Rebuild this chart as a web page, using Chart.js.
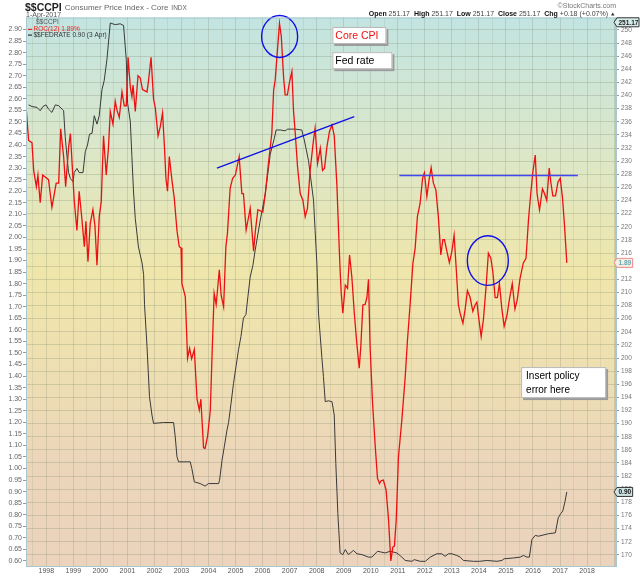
<!DOCTYPE html>
<html>
<head>
<meta charset="utf-8">
<script src="https://cdn.jsdelivr.net/npm/chart.js@4.4.1/dist/chart.umd.min.js"></script>
<style>
  html, body { margin: 0; padding: 0; background: #fff; }
  canvas { display: block; }
</style>
</head>
<body>
<canvas id="chart" width="640" height="576"></canvas>
<script>
// months counted from Apr 1997 (0 = Apr 1997, 240 = Apr 2017)
const rocMonth = [0, 1.15, 2.66, 3.4, 4.6, 5.3, 6.3, 7.4, 10, 11.5, 13.4, 14.5, 15.4, 16.7, 17.6, 18.9, 19.7, 20.4,
  21.4, 22.6, 23.6, 24.8, 25.9, 26.6, 27.5, 28.5, 29.7, 30.6, 31.5, 32.5, 33.4, 34.4, 35.6, 36.6, 37.4, 38.6, 39.6,
  40.4, 41.4, 42.6, 43.6, 44.5, 45.3, 46.3, 47, 47.5, 48.5, 49.7, 50.7, 51.7, 53.7, 54.4, 55.5, 56.6, 57.4, 58.6,
  59.6, 60.6, 61.4, 62.1, 62.8, 63.6, 64.8, 65.8, 67, 68, 68.8, 69.2, 70.7, 71.7, 72.6, 73.5, 74.7, 75.9, 76.9,
  77.6, 78.8, 79.5, 80.6, 81.8, 82.5, 83.5, 84.4, 85.8, 86.6, 87.7, 88.7, 89.4, 90.6, 91.7, 92.9, 94.6, 95.8, 96.5,
  97.7, 99.5, 101, 101.7, 102.9, 105.1, 106.2, 107.6, 109.1, 109.9, 110.6, 111.6, 112.5, 113.3, 114.3, 115, 116,
  116.9, 118, 118.7, 119.5, 120.5, 121.7, 122.9, 123.9, 124.9, 126.1, 127.6, 128.3, 129.4, 130.6, 131.6, 132.5,
  133.5, 134.7, 135.8, 136.8, 138, 138.7, 139.4, 139.9, 140.6, 141.7, 142.7, 143.6, 144.6, 145.7, 146.8, 147.9,
  148.6, 149.5, 150.5, 151.3, 152, 152.7, 153.8, 155, 156, 156.9, 157.6, 158.6, 159.8, 160.9, 161.9, 162.8, 163.5,
  164.3, 165.3, 166.8, 168.3, 169.3, 170.5, 171.7, 172.7, 173.7, 174.9, 176, 176.8, 177.9, 178.9, 179.8, 180.8,
  181.9, 183, 184.1, 185, 185.7, 186.8, 187.9, 189, 190, 190.9, 191.9, 192.7, 193.9, 194.9, 195.9, 197.1, 198.3,
  199.3, 200.1, 201, 202, 203, 204.2, 205.2, 206.3, 207.2, 208.2, 209.2, 210.1, 211.2, 212.2, 213.4, 214.5, 215.8,
  217, 218, 219.2, 220.7, 221.9, 223, 224, 224.9, 226, 226.8, 227.9, 229.2, 230.1, 231.1, 232.2, 232.9, 233.8,
  235, 236.1, 237.1, 238.1, 239, 240];
const rocValue = [2.57, 2.42, 2.41, 2.29, 2.22, 2.27, 2.15, 2.27, 2.25, 2.13, 2.235, 2.235, 2.47, 2.35, 2.22, 2.39, 2.45, 2.33,
  2.16, 2.03, 2.20, 2.08, 1.96, 2.07, 1.895, 2.06, 2.12, 2.05, 1.88, 2.09, 2.155, 2.44, 2.27, 2.39, 2.545, 2.49, 2.59,
  2.55, 2.52, 2.63, 2.57, 2.57, 2.78, 2.65, 2.61, 2.66, 2.545, 2.70, 2.69, 2.64, 2.63, 2.68, 2.78, 2.60, 2.56, 2.44,
  2.48, 2.54, 2.40, 2.255, 2.20, 2.35, 2.245, 2.17, 2.03, 1.96, 1.955, 1.80, 1.744, 1.477, 1.52, 1.475, 1.515, 1.30, 1.253,
  1.30, 1.09, 1.087, 1.14, 1.253, 1.47, 1.758, 1.71, 1.86, 1.75, 1.70, 1.96, 2.018, 2.213, 2.256, 2.27, 2.35, 2.19, 2.19,
  2.032, 2.126, 1.94, 2.02, 2.12, 2.11, 2.19, 2.321, 2.451, 2.638, 2.682, 2.812, 2.927, 2.87, 2.696, 2.617, 2.617,
  2.67, 2.718, 2.552, 2.45, 2.307, 2.19, 2.16, 2.09, 2.126, 2.29, 2.422, 2.473, 2.32, 2.386, 2.29, 2.30,
  2.39, 2.46, 2.487, 2.44, 2.22, 2.032, 1.859, 1.76, 1.672, 1.794, 1.78, 1.924, 1.83, 1.672, 1.542, 1.434,
  1.53, 1.708, 1.71, 1.74, 1.819, 1.53, 1.282, 1.094, 0.957, 0.935, 0.947, 0.95, 0.907, 0.777, 0.60, 0.66, 0.664,
  0.777, 1.051, 1.21, 1.397, 1.556, 1.715, 1.888, 1.953, 2.09, 2.147, 2.256, 2.28, 2.177, 2.25, 2.302, 2.235,
  2.206, 2.09, 1.924, 1.99, 1.99, 1.94, 1.891, 1.94, 2.01, 1.87, 1.708, 1.67, 1.629, 1.69, 1.77, 1.74, 1.68,
  1.708, 1.72, 1.645, 1.571, 1.645, 1.79, 1.932, 1.91, 1.85, 1.74, 1.74, 1.80, 1.69, 1.615, 1.66, 1.73, 1.80,
  1.69, 1.73, 1.82, 1.89, 1.91, 2.076, 2.19, 2.28, 2.357, 2.19, 2.12, 2.21, 2.19, 2.16, 2.30, 2.24, 2.18,
  2.18, 2.24, 2.256, 2.17, 2.05, 1.89];

const fedMonth = [1.15, 2.7, 4.9, 6.3, 7.5, 8.9, 10, 11.5, 13, 14.5, 16, 16.7, 17.4, 18.2, 18.9, 19.7, 20.9, 21.4,
  22.6, 23.6, 25.3, 26.3, 27.3, 28.2, 29.3, 30.3, 31.5, 32.5, 33.7, 34.7, 35.9, 37.4, 39.6, 41.8, 43.3, 44.5, 45.1,
  46.3, 47, 47.7, 48.5, 49.9, 51.5, 52.2, 52.6, 53.7, 54.8, 55.9, 56.6, 61, 65.5, 66.2, 67, 67.7, 72.9, 73.6, 74.7,
  77.3, 79.5, 81, 85.5, 85.9, 87, 88, 89.2, 89.9, 91, 92.1, 93.2, 94.3, 95.4, 96.5, 97.6, 98.5, 99.5, 100.7, 101.7,
  103.9, 106.2, 108.4, 110.2, 111, 112.8, 115, 116.1, 118, 119.5, 122.4, 123.5, 125.4, 127.6, 128.3, 129.1, 129.8,
  131.3, 132, 132.8, 134.2, 135.8, 136.8, 137.5, 138.4, 139.4, 140.6, 141.7, 143.1, 145.3, 146.9, 149.1, 152, 153.5,
  156, 159.4, 161.6, 164.6, 166.8, 168.3, 171.3, 172.3, 174.9, 177.2, 179.4, 182.3, 184.5, 186, 187.5, 189, 191.2,
  192.7, 194.1, 198.6, 201.4, 204.5, 209, 211.2, 212.2, 216.3, 219.3, 220.8, 222.3, 223.4, 224.5, 226, 227.4,
  231.9, 234.9, 235.3, 236.2, 237.3, 238.2, 239.1, 240];
const fedRate = [5.53, 5.51, 5.50, 5.46, 5.51, 5.53, 5.48, 5.44, 5.53, 5.52, 5.48, 5.46, 5.15, 4.91, 4.72, 4.65, 4.61, 4.72,
  4.77, 4.72, 4.72, 4.97, 5.05, 5.18, 5.19, 5.40, 5.30, 5.40, 5.71, 5.82, 6.07, 6.51, 6.49, 6.50, 6.48, 6.07, 5.55,
  5.33, 4.91, 4.50, 4.17, 3.83, 3.64, 3.50, 3.14, 2.64, 2.04, 1.82, 1.72, 1.73, 1.73, 1.57, 1.32, 1.26, 1.26, 1.18, 1.02,
  1.00, 0.97, 1.00, 1.00, 1.04, 1.28, 1.44, 1.64, 1.73, 1.96, 2.20, 2.40, 2.60, 2.76, 2.98, 3.02, 3.24, 3.47, 3.61, 3.79,
  4.14, 4.47, 4.94, 5.13, 5.23, 5.23, 5.22, 5.24, 5.24, 5.24, 5.23, 5.11, 4.86, 4.39, 4.03, 3.63, 3.04,
  2.51, 2.28, 1.98, 1.99, 1.98, 1.82, 1.24, 0.64, 0.17, 0.15, 0.21, 0.15, 0.20, 0.16, 0.15, 0.12, 0.12,
  0.19, 0.17, 0.19, 0.17, 0.12, 0.08, 0.07, 0.09, 0.07, 0.07, 0.12, 0.16, 0.16, 0.13, 0.16, 0.16, 0.14,
  0.12, 0.08, 0.07, 0.07, 0.08, 0.07, 0.08, 0.10, 0.11, 0.12, 0.14, 0.12, 0.12, 0.33, 0.38, 0.37,
  0.40, 0.41, 0.46, 0.59, 0.64, 0.67, 0.77, 0.90];

const yearLabels = [1998, 1999, 2000, 2001, 2002, 2003, 2004, 2005, 2006, 2007, 2008, 2009, 2010,
  2011, 2012, 2013, 2014, 2015, 2016, 2017, 2018];

const FONT = '"Liberation Sans", Arial, sans-serif';
const startYear = 1997.25;
const toYear = m => startYear + m / 12;

const rocData = rocMonth.map((m, i) => ({ x: toYear(m), y: rocValue[i] }));
const fedData = fedMonth.map((m, i) => ({ x: toYear(m), y: fedRate[i] }));

function stepList(from, to, step, digits) {
  const out = [];
  for (let v = from; v <= to + step / 2; v += step) out.push(+v.toFixed(digits));
  return out;
}
const rocTicks = stepList(0.60, 2.90, 0.05, 2);
const priceTicks = stepList(170, 250, 2, 0);
const halfYears = stepList(1997.5, 2019, 0.5, 1);

const bgPlugin = {
  id: 'bg',
  beforeDraw(chart) {
    const { ctx, chartArea: a } = chart;
    ctx.save();
    ctx.fillStyle = '#fff';
    ctx.fillRect(0, 0, chart.width, chart.height);
    const g = ctx.createLinearGradient(0, a.top, 0, a.bottom);
    g.addColorStop(0, '#c2e4e1');
    g.addColorStop(0.24, '#dbe7c9');
    g.addColorStop(0.46, '#efe6ab');
    g.addColorStop(0.62, '#eee0b1');
    g.addColorStop(0.8, '#ecd6b9');
    g.addColorStop(1, '#ebd3bd');
    ctx.fillStyle = g;
    ctx.fillRect(a.left, a.top, a.right - a.left, a.bottom - a.top);
    ctx.restore();
  }
};

function box(ctx, x, y, w, h) {
  ctx.fillStyle = '#9a9a9a';
  ctx.fillRect(x + 2, y + 2, w, h);
  ctx.fillStyle = '#fff';
  ctx.fillRect(x, y, w, h);
  ctx.strokeStyle = '#b8b8b8';
  ctx.lineWidth = 1;
  ctx.strokeRect(x + 0.5, y + 0.5, w - 1, h - 1);
}

function tag(ctx, x, y, text, stroke, fill, color) {
  ctx.font = 'bold 6.5px ' + FONT;
  const w = Math.min(ctx.measureText(text).width + 3, 640 - x - 4);
  ctx.beginPath();
  ctx.moveTo(x, y);
  ctx.lineTo(x + 3, y - 4.5);
  ctx.lineTo(x + 3 + w, y - 4.5);
  ctx.lineTo(x + 3 + w, y + 4.5);
  ctx.lineTo(x + 3, y + 4.5);
  ctx.closePath();
  ctx.fillStyle = fill;
  ctx.fill();
  ctx.strokeStyle = stroke;
  ctx.lineWidth = 1;
  ctx.stroke();
  ctx.fillStyle = color;
  ctx.textAlign = 'left';
  ctx.textBaseline = 'middle';
  ctx.fillText(text, x + 4.5, y + 0.5, w - 2);
}

const notesPlugin = {
  id: 'notes',
  afterDatasetsDraw(chart) {
    const { ctx, scales } = chart;
    const X = v => scales.x.getPixelForValue(v);
    const Y = v => scales.y.getPixelForValue(v);
    ctx.save();
    ctx.strokeStyle = '#1010e8';
    ctx.lineWidth = 1.4;
    // circles round the two peaks
    [[2006.63, 2.87, 18, 21], [2014.33, 1.90, 20.5, 24.8]].forEach(([t, v, rx, ry]) => {
      ctx.beginPath();
      ctx.ellipse(X(t), Y(v), rx, ry, 0, 0, Math.PI * 2);
      ctx.stroke();
    });
    // trend line and flat line
    ctx.beginPath();
    ctx.moveTo(X(2004.31), Y(2.300));
    ctx.lineTo(X(2009.39), Y(2.523));
    ctx.stroke();
    ctx.strokeStyle = '#4646ee';
    ctx.lineWidth = 1.5;
    ctx.beginPath();
    ctx.moveTo(X(2011.06), Y(2.268));
    ctx.lineTo(X(2017.66), Y(2.268));
    ctx.stroke();

    // text boxes
    const bx = X(2008.58);
    box(ctx, bx, Y(2.911), 54, 17);
    ctx.font = '10.5px ' + FONT;
    ctx.textAlign = 'left';
    ctx.textBaseline = 'middle';
    ctx.fillStyle = '#ee1111';
    ctx.fillText('Core CPI', bx + 3, Y(2.911) + 9);
    box(ctx, bx, Y(2.802), 60, 17);
    ctx.fillStyle = '#000';
    ctx.fillText('Fed rate', bx + 3, Y(2.802) + 9);
    const ix = X(2015.56);
    const iy = Y(1.439);
    box(ctx, ix, iy, 85, 31);
    ctx.font = '10px ' + FONT;
    ctx.fillStyle = '#000';
    ctx.fillText('Insert policy', ix + 5, iy + 9.5);
    ctx.fillText('error here', ix + 5, iy + 23);
    ctx.restore();
  },
  afterDraw(chart) {
    const { ctx, chartArea: a, scales } = chart;
    ctx.save();
    // plot frame
    ctx.strokeStyle = '#a9c7d0';
    ctx.lineWidth = 1;
    ctx.strokeRect(a.left + 0.5, a.top + 0.5, a.right - a.left - 1, a.bottom - a.top);

    // header
    ctx.textBaseline = 'alphabetic';
    ctx.textAlign = 'left';
    ctx.fillStyle = '#222';
    ctx.font = 'bold 10.5px ' + FONT;
    ctx.fillText('$$CCPI', 25, 10.5);
    const w = ctx.measureText('$$CCPI').width;
    ctx.fillStyle = '#666';
    ctx.font = '8px ' + FONT;
    ctx.fillText('Consumer Price Index - Core', 28 + w, 10);
    const w2 = ctx.measureText('Consumer Price Index - Core').width;
    ctx.font = '6.5px ' + FONT;
    ctx.fillText('INDX', 31 + w + w2, 10);
    ctx.fillStyle = '#555';
    ctx.font = '7px ' + FONT;
    ctx.fillText('1-Apr-2017', 26, 16.5);

    ctx.textAlign = 'right';
    ctx.fillStyle = '#777';
    ctx.fillText('\u00a9StockCharts.com', 616, 8);

    // price summary line
    const parts = [['Open', true], [' 251.17  ', false], ['High', true], [' 251.17  ', false], ['Low', true],
      [' 251.17  ', false], ['Close', true], [' 251.17  ', false], ['Chg', true], [' +0.18 (+0.07%) ', false]];
    let total = 0;
    parts.forEach(([t, b]) => { ctx.font = (b ? 'bold ' : '') + '7px ' + FONT; total += ctx.measureText(t).width; });
    let px = 610 - total;
    ctx.textAlign = 'left';
    parts.forEach(([t, b]) => {
      ctx.font = (b ? 'bold ' : '') + '7px ' + FONT;
      ctx.fillStyle = b ? '#111' : '#444';
      ctx.fillText(t, px, 16);
      px += ctx.measureText(t).width;
    });
    ctx.fillStyle = '#333';
    ctx.beginPath();
    ctx.moveTo(611, 15.5); ctx.lineTo(614.5, 15.5); ctx.lineTo(612.75, 12.5); ctx.closePath();
    ctx.fill();

    // legend
    ctx.font = '6.5px ' + FONT;
    ctx.textBaseline = 'middle';
    ctx.fillStyle = '#555';
    ctx.fillText('$$CCPI', 36, 22.7);
    ctx.fillStyle = '#ee2222';
    ctx.fillRect(28, 28.8, 4, 1.2);
    ctx.fillText('ROC(12) 1.89%', 33.5, 29.3);
    ctx.fillStyle = '#333';
    ctx.fillRect(28, 34.5, 4, 1.2);
    ctx.fillText('$$FEDRATE 0.90 (3 Apr)', 33.5, 35.2);

    // last-value tags on the right axis
    tag(ctx, 614, scales.yPrice.getPixelForValue(251.17), '251.17', '#333', '#d6ecea', '#222');
    tag(ctx, 614, scales.y.getPixelForValue(rocValue[rocValue.length - 1]), '1.89', '#f08a8a', '#f6efe4', '#6aa6b0');
    tag(ctx, 614, scales.yFed.getPixelForValue(fedRate[fedRate.length - 1]), '0.90', '#333', '#cfe4e2', '#111');
    ctx.restore();
  }
};

// the fed rate sits on its own hidden scale, lined up with the ROC axis as in the picture
const rocMin = 0.578, rocMax = 2.952;
const fedMin = (rocMin - 0.573) / 0.3618, fedMax = (rocMax - 0.573) / 0.3618;

new Chart(document.getElementById('chart'), {
  type: 'line',
  data: {
    datasets: [
      { label: 'ROC(12)', data: rocData, yAxisID: 'y', borderColor: '#ec1010', borderWidth: 1.3, pointRadius: 0 },
      { label: '$$FEDRATE', data: fedData, yAxisID: 'yFed', borderColor: '#3a3a3a', borderWidth: 1, pointRadius: 0 }
    ]
  },
  options: {
    responsive: false,
    animation: false,
    devicePixelRatio: 1,
    layout: { padding: { top: 17.5, left: 0, right: 0, bottom: 0 } },
    plugins: { legend: { display: false }, tooltip: { enabled: false } },
    elements: { line: { tension: 0 } },
    scales: {
      x: {
        type: 'linear',
        min: startYear,
        max: 2019.07,
        afterBuildTicks: s => { s.ticks = halfYears.map(v => ({ value: v })); },
        afterFit: s => { s.height = 10; },
        ticks: {
          autoSkip: false, maxRotation: 0, padding: 1, color: '#555',
          font: { size: 7, family: FONT },
          callback: v => yearLabels.includes(v) ? String(v) : ''
        },
        grid: {
          drawTicks: false,
          color: c => Number.isInteger(c.tick && c.tick.value) ? 'rgba(105,115,90,0.42)' : 'rgba(120,130,105,0.26)'
        },
        border: { color: '#8fbccc', dash: [1, 1] }
      },
      y: {
        position: 'left',
        min: rocMin,
        max: rocMax,
        afterBuildTicks: s => { s.ticks = rocTicks.map(v => ({ value: v })); },
        afterFit: s => { s.width = 26; },
        ticks: {
          autoSkip: false, padding: 1, color: '#666',
          font: { size: 7, family: FONT },
          callback: v => v.toFixed(2)
        },
        grid: { drawOnChartArea: false, tickLength: 3, tickColor: '#999' },
        border: { color: '#a9c7d0' }
      },
      yPrice: {
        position: 'right',
        min: 168.3,
        max: 251.9,
        afterBuildTicks: s => { s.ticks = priceTicks.map(v => ({ value: v })); },
        afterFit: s => { s.width = 24; },
        ticks: {
          autoSkip: false, padding: 2, color: '#777',
          font: { size: 6.5, family: FONT },
          callback: v => String(v)
        },
        grid: { color: 'rgba(120,130,105,0.26)', tickLength: 3, tickColor: '#999' },
        border: { color: '#a9c7d0' }
      },
      yFed: { display: false, min: fedMin, max: fedMax }
    }
  },
  plugins: [bgPlugin, notesPlugin]
});
</script>
</body>
</html>
